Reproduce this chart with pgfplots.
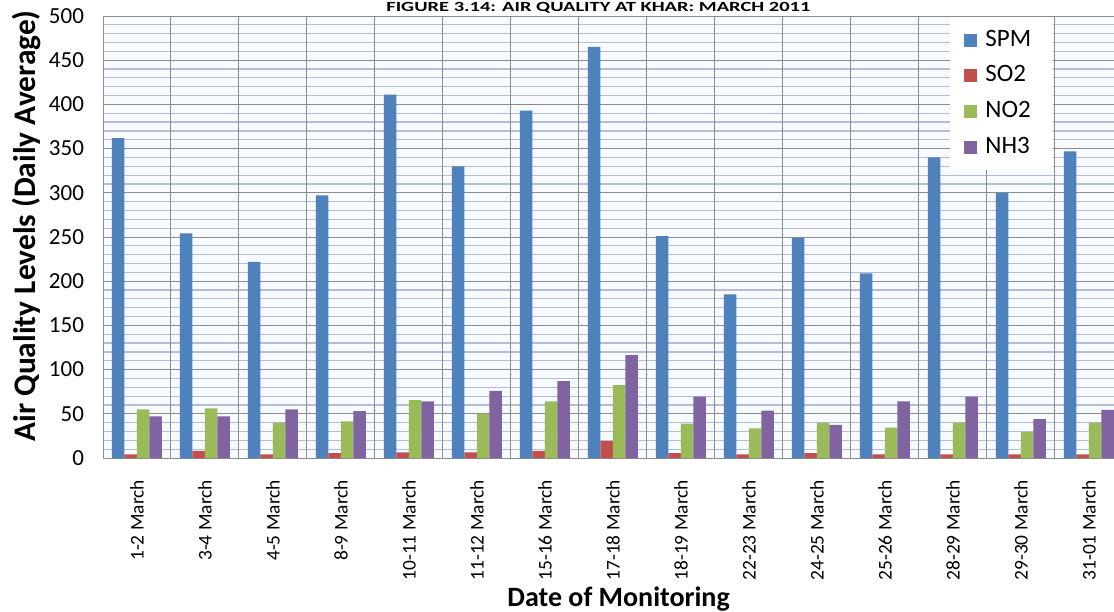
\documentclass[border=0pt]{standalone}
\usepackage{graphicx}
\usepackage{pgfplots}
\pgfplotsset{compat=1.18}
\usepackage{fontspec}
\setmainfont{Carlito}
\definecolor{spm}{HTML}{4F81BD}
\definecolor{sotwo}{HTML}{C0504D}
\definecolor{notwo}{HTML}{9BBB59}
\definecolor{nhthree}{HTML}{8064A2}
\definecolor{minorgrid}{HTML}{B4BCD6}
\definecolor{majorgrid}{HTML}{8C8C8C}
\definecolor{plotbg}{HTML}{F7FAFE}
\pgfplotstableread{
x SPM SO2 NO2 NH3
0 362 4 55 47
1 254 8 56 47
2 222 4 40 55
3 297 5.5 41.5 53
4 411 6.5 65.5 64
5 330 6.5 50 76
6 393 8 64 87
7 465 19 82.5 116.5
8 251 5.5 39 69.5
9 185 4 33.5 53.5
10 249 5.5 40 37.5
11 209 4 34.5 64
12 340 4 40 69.5
13 300 4 29.5 44
14 347 4 40 54.5
}\datatable
\begin{document}
\begin{tikzpicture}
\begin{axis}[
  scale only axis, width=505.5pt, height=221pt,
  at={(0,0)}, anchor=south west,
  ybar=0pt, bar width=6.25pt,
  xmin=-0.5, xmax=14.37, ymin=0, ymax=500,
  xtick={0,...,14},
  xticklabels={1-2 March,3-4 March,4-5 March,8-9 March,10-11 March,11-12 March,15-16 March,17-18 March,18-19 March,22-23 March,24-25 March,25-26 March,28-29 March,29-30 March,31-01 March},
  x tick label style={font=\fontsize{9.7}{11}\selectfont, yshift=-7.5pt, rotate=90, anchor=east},
  ytick={0,50,...,500},
  minor y tick num=4,
  ymajorgrids, yminorgrids,
  major grid style={majorgrid, line width=0.5pt},
  minor grid style={minorgrid, line width=0.6pt},
  extra x ticks={0.5,1.5,...,13.5},
  extra x tick labels={},
  extra x tick style={xmajorgrids=true, major grid style={majorgrid, line width=0.5pt}},
  major tick length=0pt, minor tick length=0pt,
  axis line style={majorgrid},
  axis background/.style={fill=plotbg},
  /pgf/number format/assume math mode=true,
  yticklabel style={font=\fontsize{11.5}{13}\selectfont, xshift=-6pt},
  ylabel={Air Quality Levels (Daily Average)},
  ylabel style={at={(axis description cs:-0.0752,0.525)}, anchor=center, font=\bfseries\fontsize{15.7}{18}\selectfont},
  xlabel={Date of Monitoring},
  xlabel style={at={(axis description cs:0.510,-0.335)}, anchor=base, font=\bfseries\fontsize{14}{16}\selectfont},
  title={\resizebox{212pt}{\height}{FIGURE 3.14: AIR QUALITY AT KHAR: MARCH 2011}},
  every axis title/.style={at={(axis description cs:0.49,1.0113)}, anchor=base, inner sep=0pt, font=\bfseries\fontsize{7}{8}\selectfont},
  legend style={at={(axis description cs:0.8378,0.998)}, anchor=north west, draw=none, fill=white,
    font=\fontsize{12.5}{14}\selectfont, row sep=3.8pt, inner xsep=7pt, inner ysep=4.5pt,
    nodes={inner sep=1pt, text height=9pt, text depth=3pt},
    /tikz/every odd column/.append style={column sep=3pt}},
  legend cell align=left,
  legend image code/.code={\fill[#1] (0pt,-3.25pt) rectangle (6.5pt,3.25pt);},
]
\addplot[fill=spm, draw=none] table[x=x, y=SPM] {\datatable};
\addplot[fill=sotwo, draw=none] table[x=x, y=SO2] {\datatable};
\addplot[fill=notwo, draw=none] table[x=x, y=NO2] {\datatable};
\addplot[fill=nhthree, draw=none] table[x=x, y=NH3] {\datatable};
\addlegendentry{\makebox[26pt][l]{SPM}}
\addlegendentry{\makebox[26pt][l]{SO2}}
\addlegendentry{\makebox[26pt][l]{NO2}}
\addlegendentry{\makebox[26pt][l]{NH3}}
\end{axis}
\pgfresetboundingbox
\path[use as bounding box] (-51.5pt,-76.5pt) rectangle (505.5pt,229pt);
\end{tikzpicture}
\end{document}
